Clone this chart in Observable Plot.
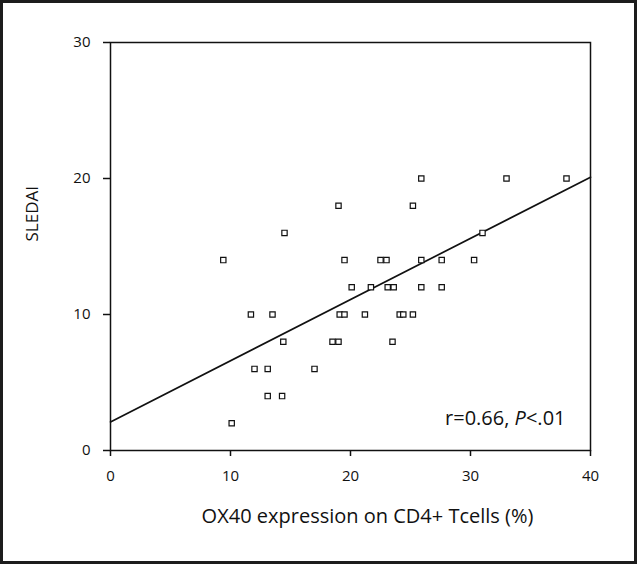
<!DOCTYPE html>
<html>
<head>
<meta charset="utf-8">
<script src="https://cdn.jsdelivr.net/npm/d3@7"></script>
<script src="https://cdn.jsdelivr.net/npm/@observablehq/plot@0.6"></script>
<style>
  html, body { margin: 0; padding: 0; background: #fff; }
  #wrap { position: relative; width: 637px; height: 564px; overflow: hidden; }
  #border { position: absolute; left: 0; top: 0; right: 0; bottom: 0; border: 3px solid #1c1c1c; box-sizing: border-box; pointer-events: none; }
</style>
</head>
<body>
<div id="wrap"><div id="chart"></div><div id="border"></div></div>
<script>
// OX40 expression on CD4+ T cells (%) vs SLEDAI
const ox40 = [9.4, 10.1, 11.7, 12.0, 13.1, 13.1, 13.5, 14.3, 14.4, 14.5, 17.0, 18.5, 19.0, 19.0, 19.1, 19.5, 19.5, 20.1, 21.2, 21.7, 22.5, 23.0, 23.1, 23.6, 23.5, 24.1, 24.4, 25.2, 25.2, 25.9, 25.9, 25.9, 27.6, 27.6, 30.3, 31.0, 33.0, 38.0];
const sledai = [14, 2, 10, 6, 6, 4, 10, 4, 8, 16, 6, 8, 8, 18, 10, 10, 14, 12, 10, 12, 14, 14, 12, 12, 8, 10, 10, 10, 18, 20, 14, 12, 14, 12, 14, 16, 20, 20];
const xTicks = [0, 10, 20, 30, 40];
const yTicks = [0, 10, 20, 30];
const fitX = [0, 40];
const fitY = [2.1, 20.1];
const xLabel = "OX40 expression on CD4+ Tcells (%)";
const yLabel = "SLEDAI";
const annotation = ["r=0.66, ", "P", "<.01"];

const points = ox40.map((x, i) => ({x, y: sledai[i]}));
const fit = fitX.map((x, i) => ({x, y: fitY[i]}));

const chart = Plot.plot({
  width: 637,
  height: 564,
  marginLeft: 110,
  marginRight: 47,
  marginTop: 42,
  marginBottom: 114,
  style: {fontFamily: "'Open Sans', sans-serif", background: "#fff", color: "#111"},
  x: {domain: [0, 40]},
  y: {domain: [0, 30]},
  marks: [
    Plot.frame({stroke: "#111", strokeWidth: 1.5}),
    Plot.axisX({ticks: xTicks, tickSize: 6, tickPadding: 14, label: null, fontSize: 15, strokeWidth: 1.5, fill: "#111"}),
    Plot.axisY({ticks: yTicks, tickSize: 7, tickPadding: 13, label: null, fontSize: 15, strokeWidth: 1.5, fill: "#111"}),
    Plot.line(fit, {x: "x", y: "y", stroke: "#111", strokeWidth: 1.7}),
    Plot.dot(points, {x: "x", y: "y", symbol: "square", r: 3, stroke: "#111", strokeWidth: 1.2, fill: "#fff"}),
    Plot.text([xLabel], {frameAnchor: "bottom", dx: 17, dy: 72, fontSize: 20, fill: "#111"}),
    Plot.text([yLabel], {frameAnchor: "left", rotate: -90, dx: -78, dy: -5, fontSize: 17, fill: "#111"}),
    Plot.text([annotation.join("")], {frameAnchor: "bottom-right", textAnchor: "end", lineAnchor: "bottom", dx: -25, dy: -26, fontSize: 20, fill: "#111", className: "annot"})
  ]
});

// italicise the P in the annotation
d3.select(chart).selectAll(".annot text").each(function() {
  const t = d3.select(this);
  t.text(null);
  t.append("tspan").text(annotation[0]);
  t.append("tspan").attr("font-style", "italic").text(annotation[1]);
  t.append("tspan").text(annotation[2]);
});

document.getElementById("chart").appendChild(chart);
</script>
</body>
</html>
